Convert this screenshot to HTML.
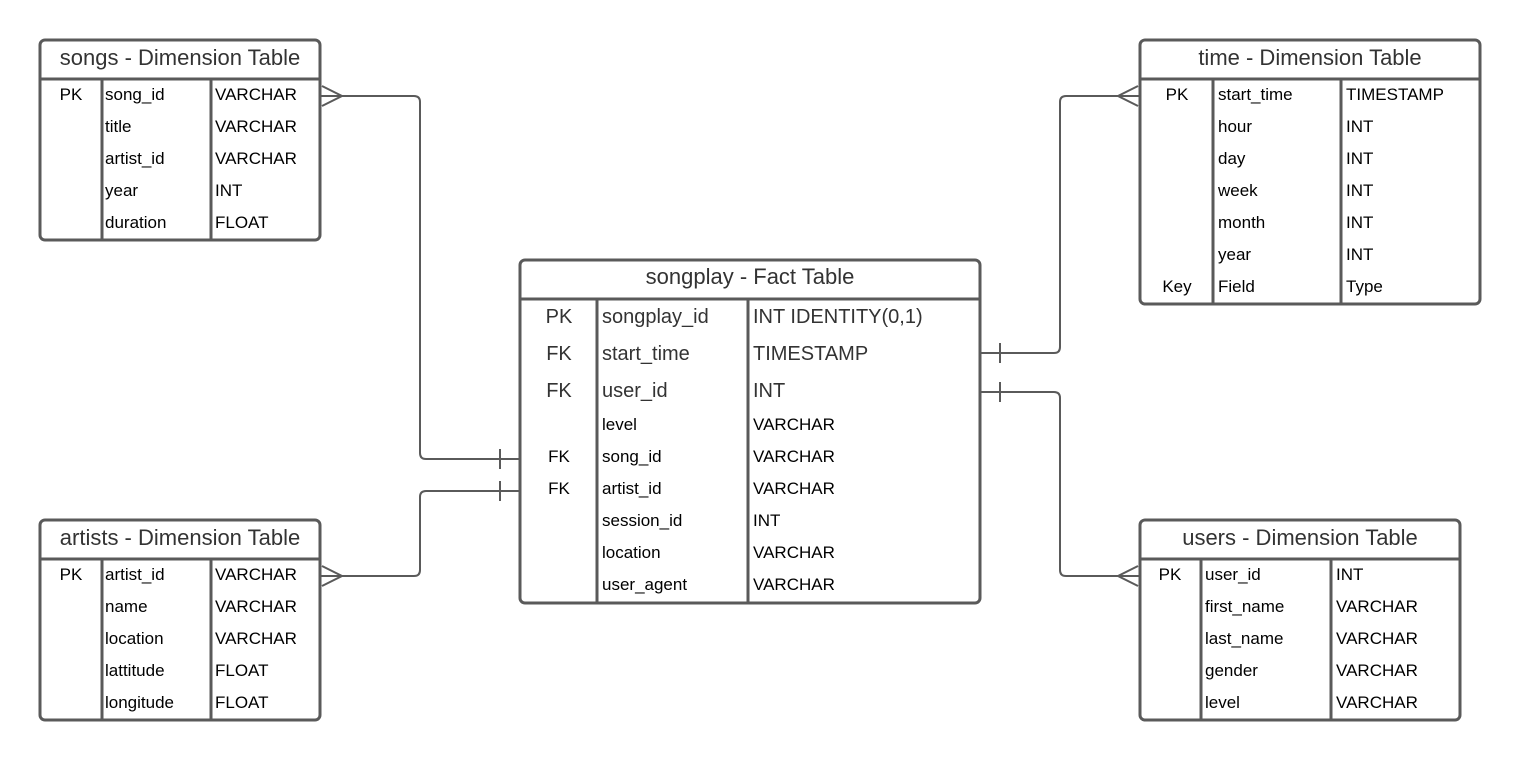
<!DOCTYPE html>
<html><head><meta charset="utf-8"><style>
html,body{margin:0;padding:0;background:#fff;}
svg{display:block;}
text{font-family:"Liberation Sans",Arial,sans-serif;}
.h{font-size:22px;fill:#333;}
.t{font-size:17px;fill:#000;}
.b{font-size:20px;fill:#333;}
</style></head><body>
<svg width="1520" height="760" viewBox="0 0 1520 760" xmlns="http://www.w3.org/2000/svg">
<g fill="none" stroke="#5a5a5a" stroke-width="3">
<rect x="40" y="40" width="280" height="200" rx="5"/>
<line x1="40" y1="79" x2="320" y2="79"/>
<line x1="102" y1="79" x2="102" y2="240"/><line x1="211" y1="79" x2="211" y2="240"/>
<rect x="40" y="520" width="280" height="200" rx="5"/>
<line x1="40" y1="559" x2="320" y2="559"/>
<line x1="102" y1="559" x2="102" y2="720"/><line x1="211" y1="559" x2="211" y2="720"/>
<rect x="1140" y="40" width="340" height="264" rx="5"/>
<line x1="1140" y1="79" x2="1480" y2="79"/>
<line x1="1213" y1="79" x2="1213" y2="304"/><line x1="1341" y1="79" x2="1341" y2="304"/>
<rect x="1140" y="520" width="320" height="200" rx="5"/>
<line x1="1140" y1="559" x2="1460" y2="559"/>
<line x1="1201" y1="559" x2="1201" y2="720"/><line x1="1331" y1="559" x2="1331" y2="720"/>
<rect x="520" y="260" width="460" height="343" rx="5"/>
<line x1="520" y1="299" x2="980" y2="299"/>
<line x1="597" y1="299" x2="597" y2="603"/><line x1="748" y1="299" x2="748" y2="603"/>
</g>
<g fill="none" stroke="#5a5a5a" stroke-width="2">
<path d="M320 96 H414 Q420 96 420 102 V453 Q420 459 426 459 H520"/>
<path d="M322 86 L342 96 L322 106"/>
<line x1="500" y1="449" x2="500" y2="469"/>
<path d="M520 491 H426 Q420 491 420 497 V570 Q420 576 414 576 H320"/>
<path d="M322 566 L342 576 L322 586"/>
<line x1="500" y1="481" x2="500" y2="501"/>
<path d="M980 353 H1054 Q1060 353 1060 347 V102 Q1060 96 1066 96 H1140"/>
<path d="M1138 86 L1118 96 L1138 106"/>
<line x1="1000" y1="343" x2="1000" y2="363"/>
<path d="M980 392 H1054 Q1060 392 1060 398 V570 Q1060 576 1066 576 H1140"/>
<path d="M1138 566 L1118 576 L1138 586"/>
<line x1="1000" y1="382" x2="1000" y2="402"/>
</g>
<text class="h" x="180" y="65" text-anchor="middle">songs - Dimension Table</text>
<g class="t">
<text x="71" y="100" text-anchor="middle">PK</text>
<text x="105" y="100">song_id</text><text x="215" y="100">VARCHAR</text>
<text x="105" y="132">title</text><text x="215" y="132">VARCHAR</text>
<text x="105" y="164">artist_id</text><text x="215" y="164">VARCHAR</text>
<text x="105" y="196">year</text><text x="215" y="196">INT</text>
<text x="105" y="228">duration</text><text x="215" y="228">FLOAT</text>
</g>
<text class="h" x="180" y="545" text-anchor="middle">artists - Dimension Table</text>
<g class="t">
<text x="71" y="580" text-anchor="middle">PK</text>
<text x="105" y="580">artist_id</text><text x="215" y="580">VARCHAR</text>
<text x="105" y="612">name</text><text x="215" y="612">VARCHAR</text>
<text x="105" y="644">location</text><text x="215" y="644">VARCHAR</text>
<text x="105" y="676">lattitude</text><text x="215" y="676">FLOAT</text>
<text x="105" y="708">longitude</text><text x="215" y="708">FLOAT</text>
</g>
<text class="h" x="1310" y="65" text-anchor="middle">time - Dimension Table</text>
<g class="t">
<text x="1177" y="100" text-anchor="middle">PK</text>
<text x="1218" y="100">start_time</text><text x="1346" y="100">TIMESTAMP</text>
<text x="1218" y="132">hour</text><text x="1346" y="132">INT</text>
<text x="1218" y="164">day</text><text x="1346" y="164">INT</text>
<text x="1218" y="196">week</text><text x="1346" y="196">INT</text>
<text x="1218" y="228">month</text><text x="1346" y="228">INT</text>
<text x="1218" y="260">year</text><text x="1346" y="260">INT</text>
<text x="1177" y="292" text-anchor="middle">Key</text>
<text x="1218" y="292">Field</text><text x="1346" y="292">Type</text>
</g>
<text class="h" x="1300" y="545" text-anchor="middle">users - Dimension Table</text>
<g class="t">
<text x="1170" y="580" text-anchor="middle">PK</text>
<text x="1205" y="580">user_id</text><text x="1336" y="580">INT</text>
<text x="1205" y="612">first_name</text><text x="1336" y="612">VARCHAR</text>
<text x="1205" y="644">last_name</text><text x="1336" y="644">VARCHAR</text>
<text x="1205" y="676">gender</text><text x="1336" y="676">VARCHAR</text>
<text x="1205" y="708">level</text><text x="1336" y="708">VARCHAR</text>
</g>
<text class="h" x="750" y="284" text-anchor="middle">songplay - Fact Table</text>
<g class="b">
<text x="559" y="323" text-anchor="middle">PK</text>
<text x="602" y="323">songplay_id</text><text x="753" y="323">INT IDENTITY(0,1)</text>
<text x="559" y="360" text-anchor="middle">FK</text>
<text x="602" y="360">start_time</text><text x="753" y="360">TIMESTAMP</text>
<text x="559" y="397" text-anchor="middle">FK</text>
<text x="602" y="397">user_id</text><text x="753" y="397">INT</text>
</g>
<g class="t">
<text x="602" y="430">level</text><text x="753" y="430">VARCHAR</text>
<text x="559" y="462" text-anchor="middle">FK</text>
<text x="602" y="462">song_id</text><text x="753" y="462">VARCHAR</text>
<text x="559" y="494" text-anchor="middle">FK</text>
<text x="602" y="494">artist_id</text><text x="753" y="494">VARCHAR</text>
<text x="602" y="526">session_id</text><text x="753" y="526">INT</text>
<text x="602" y="558">location</text><text x="753" y="558">VARCHAR</text>
<text x="602" y="590">user_agent</text><text x="753" y="590">VARCHAR</text>
</g>
</svg>
</body></html>
